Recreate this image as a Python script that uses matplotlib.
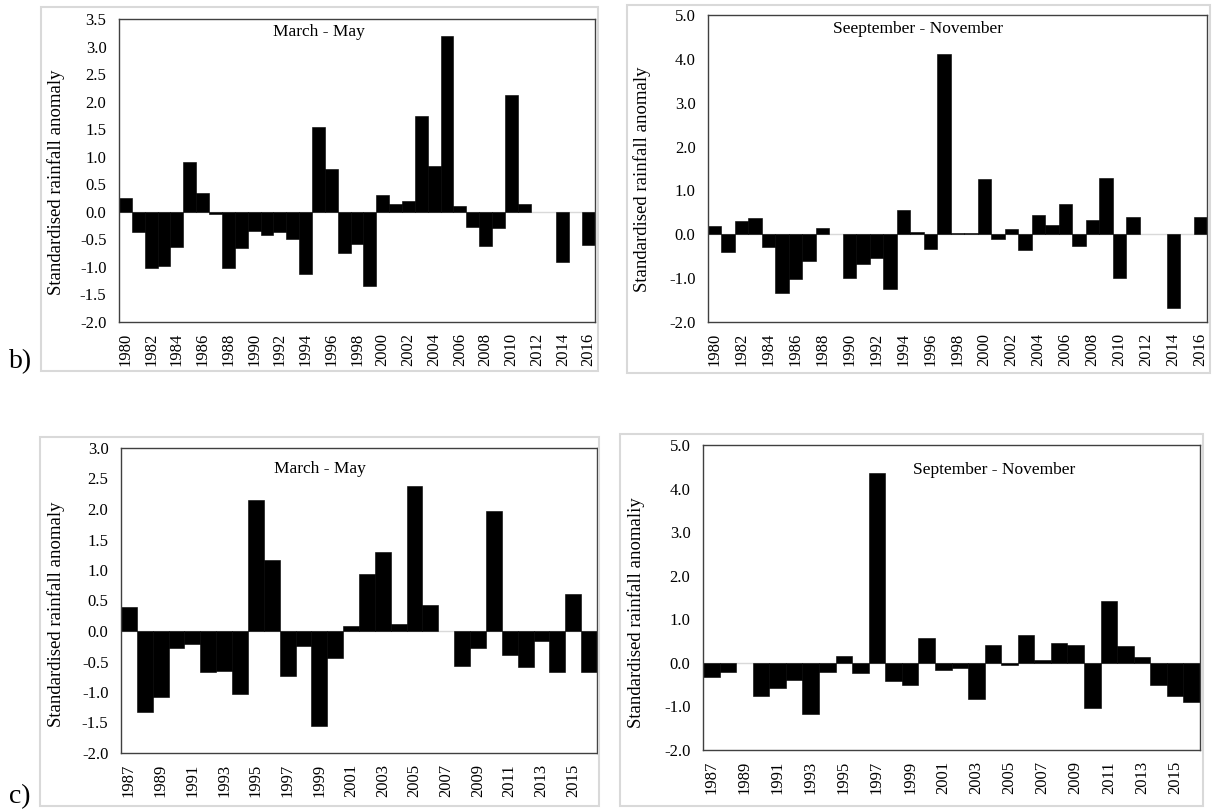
import matplotlib
matplotlib.use("Agg")
import matplotlib.pyplot as plt
from matplotlib.patches import Rectangle
import numpy as np

plt.rcParams['font.family'] = ['Liberation Serif', 'DejaVu Serif']

# --- data ---
years_b = list(range(1980, 2017))
mam_b = [0.25, -0.37, -1.02, -0.99, -0.63, 0.91, 0.35, -0.04, -1.02, -0.66,
         -0.35, -0.42, -0.37, -0.50, -1.13, 1.54, 0.77, -0.75, -0.59, -1.35,
         0.31, 0.15, 0.20, 1.74, 0.84, 3.19, 0.11, -0.27, -0.62, -0.30,
         2.12, 0.15, 0.0, 0.0, -0.91, 0.0, -0.60]
son_b = [0.19, -0.40, 0.30, 0.36, -0.30, -1.35, -1.03, -0.61, 0.15, 0.0,
         -1.00, -0.68, -0.53, -1.25, 0.56, 0.05, -0.33, 4.10, 0.04, 0.02,
         1.27, -0.11, 0.13, -0.36, 0.45, 0.22, 0.70, -0.26, 0.32, 1.29,
         -1.00, 0.40, 0.0, 0.0, -1.69, 0.0, 0.40]

years_c = list(range(1987, 2017))
mam_c = [0.39, -1.33, -1.09, -0.28, -0.21, -0.68, -0.66, -1.04, 2.14, 1.17,
         -0.74, -0.24, -1.55, -0.44, 0.09, 0.94, 1.30, 0.12, 2.37, 0.42,
         0.0, -0.58, -0.28, 1.97, -0.40, -0.59, -0.17, -0.67, 0.60, -0.68]
son_c = [-0.33, -0.21, 0.0, -0.75, -0.57, -0.39, -1.17, -0.21, 0.15, -0.24,
         4.35, -0.41, -0.51, 0.57, -0.16, -0.12, -0.82, 0.41, -0.05, 0.64,
         0.07, 0.46, 0.42, -1.03, 1.42, 0.38, 0.14, -0.50, -0.76, -0.90]

W, H = 1213, 811
fig = plt.figure(figsize=(W / 100, H / 100), dpi=100)


def px_box(x0, y0, x1, y1):
    # pixel box (top-left origin) -> figure fraction [left, bottom, width, height]
    return [x0 / W, 1 - y1 / H, (x1 - x0) / W, (y1 - y0) / H]


def panel(ax_px, frame_px, years, vals, ylim, ystep, title, title_xy, ylabel, ylab_xy):
    fx0, fy0, fx1, fy1 = frame_px
    fig.patches.append(Rectangle((fx0 / W, 1 - fy1 / H), (fx1 - fx0) / W, (fy1 - fy0) / H,
                                 transform=fig.transFigure, fill=False,
                                 edgecolor='#d9d9d9', linewidth=1.5))
    ax = fig.add_axes(px_box(*ax_px))
    x = np.arange(len(years))
    ax.axhline(0, color='#d9d9d9', linewidth=1, zorder=1)
    edges = ['black' if v != 0 else 'none' for v in vals]
    ax.bar(x, vals, width=1.0, color='black', edgecolor=edges, linewidth=0.4, zorder=2)
    ax.set_xlim(-0.5, len(years) - 0.5)
    ax.set_ylim(*ylim)
    ticks = np.arange(ylim[0], ylim[1] + ystep / 2, ystep)
    ax.set_yticks(ticks)
    ax.set_yticklabels([f"{t:.1f}" for t in ticks])
    ax.set_xticks(x[::2])
    ax.set_xticklabels([str(y) for y in years[::2]], rotation=90)
    ax.tick_params(axis='both', length=0, labelsize=12)
    ax.tick_params(axis='y', pad=9)
    ax.tick_params(axis='x', pad=8)
    for s in ax.spines.values():
        s.set_color('#404040')
        s.set_linewidth(1.0)
    ax.text(title_xy[0], title_xy[1], title, transform=ax.transAxes,
            ha='center', va='center', fontsize=12.5)
    ax.set_ylabel(ylabel, fontsize=13.5)
    ax.yaxis.set_label_coords(*ylab_xy)
    return ax


panel((119, 19, 595, 322), (41, 7, 598, 371), years_b, mam_b, (-2.0, 3.5), 0.5,
      "March - May", (0.42, 0.957), "Standardised rainfall anomaly", (-0.113, 0.46))
panel((708, 15, 1207, 322), (627, 5, 1210, 373), years_b, son_b, (-2.0, 5.0), 1.0,
      "Seeptember - November", (0.42, 0.954), "Standardised rainfall anomaly", (-0.114, 0.466))
panel((121, 448, 597, 753), (40, 437, 599, 806), years_c, mam_c, (-2.0, 3.0), 0.5,
      "March - May", (0.418, 0.931), "Standardised rainfall anomaly", (-0.118, 0.456))
panel((703, 445, 1200, 750), (620, 434, 1203, 806), years_c, son_c, (-2.0, 5.0), 1.0,
      "September - November", (0.586, 0.918), "Standardised rainfall anomaliy", (-0.117, 0.449))

fig.text(21 / W, 1 - 362 / H, "b)", fontsize=20, ha='center', va='center')
fig.text(20 / W, 1 - 797 / H, "c)", fontsize=20, ha='center', va='center')

fig.savefig("out.png", dpi=100)
